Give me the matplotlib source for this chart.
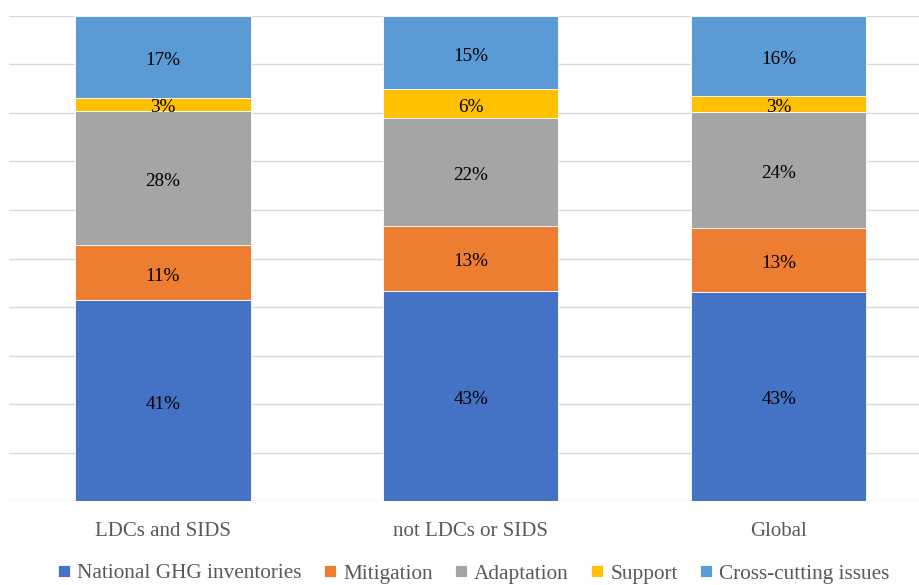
import matplotlib
matplotlib.use("Agg")
import matplotlib.pyplot as plt
import numpy as np

groups = ["LDCs and SIDS", "not LDCs or SIDS", "Global"]
series = ["National GHG inventories", "Mitigation", "Adaptation", "Support", "Cross-cutting issues"]
ghg = [41.4, 43.4, 43.1]
mitigation = [11.4, 13.4, 13.2]
adaptation = [27.6, 22.2, 23.9]
support = [2.7, 5.9, 3.4]
crosscutting = [16.9, 15.1, 16.4]
colors = ["#4472C4", "#ED7D31", "#A5A5A5", "#FFC000", "#5B9BD5"]


def main():
	plt.rcParams['font.family'] = ['Liberation Serif', 'DejaVu Serif']
	fig = plt.figure(figsize=(9.2, 5.85), dpi=100)
	ax = fig.add_axes([9 / 920, 1 - 501 / 585, 923.5 / 920, 485 / 585])

	x = np.arange(len(groups))
	bottom = np.zeros(len(groups))
	for name, vals, col in zip(series, [ghg, mitigation, adaptation, support, crosscutting], colors):
		vals = np.array(vals)
		ax.bar(x, vals, 0.57, bottom=bottom, color=col, label=name,
			   edgecolor="white", linewidth=0.6, zorder=3)
		for xi, b, v in zip(x, bottom, vals):
			ax.annotate("%.0f%%" % v, (xi, b + v / 2), xytext=(0, -2.5), textcoords="offset points",
						ha="center", va="center", fontsize=13.8, color="black", zorder=4)
		bottom += vals

	ax.set_xlim(-0.5, 2.5)
	ax.set_ylim(0, 100)
	ax.set_yticks(np.arange(0, 101, 10))
	ax.yaxis.grid(True, color="#D9D9D9", linewidth=1.0, zorder=0)
	ax.tick_params(axis="y", left=False, labelleft=False)
	ax.tick_params(axis="x", length=0, pad=15, labelsize=15, labelcolor="#595959")
	ax.set_xticks(x)
	ax.set_xticklabels(groups)
	for s in ax.spines.values():
		s.set_visible(False)

	fig.legend(loc="center", bbox_to_anchor=(0.515, 1 - 574 / 585), ncol=5, frameon=False,
			   fontsize=15.3, handlelength=0.55, handleheight=0.55, handletextpad=0.35,
			   columnspacing=1.05, labelcolor="#595959", borderpad=0.2)

	fig.savefig("out.png", dpi=100)


if __name__ == "__main__":
	main()
